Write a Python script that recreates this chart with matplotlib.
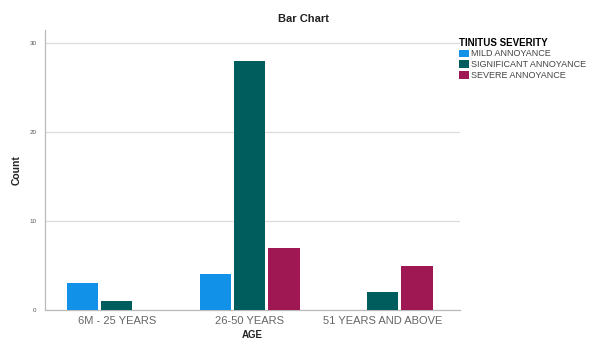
import numpy as np
import matplotlib.pyplot as plt

plt.rcParams['font.family'] = ['Liberation Sans', 'DejaVu Sans']

age_groups = ['6M - 25 YEARS', '26-50 YEARS', '51 YEARS AND ABOVE']
severity = ['MILD ANNOYANCE', 'SIGNIFICANT ANNOYANCE', 'SEVERE ANNOYANCE']
mild = [3, 4, 0]
significant = [1, 28, 2]
severe = [0, 7, 5]
colors = ['#1192e8', '#005d5d', '#9f1853']

fig = plt.figure(figsize=(5.89, 3.44), dpi=100)
ax = fig.add_axes([45/589, 1 - 310/344, 415/589, 280/344])

x = np.arange(len(age_groups))
w = 0.235
step = 0.257
for i, (vals, lab) in enumerate(zip([mild, significant, severe], severity)):
    ax.bar(x + (i - 1) * step, vals, width=w, color=colors[i], label=lab, zorder=3)

ax.set_xlim(-0.54, 2.58)
ax.set_ylim(0, 31.5)
ax.set_yticks([0, 10, 20, 30])
ax.set_xticks(x)
ax.set_xticklabels(age_groups, fontsize=8, color='#666666')
ax.tick_params(axis='y', labelsize=4.5, colors='#555555', length=0, pad=6)
ax.tick_params(axis='x', length=0, pad=4)
ax.grid(axis='y', color='#dddddd', linewidth=0.9, zorder=0)
for s in ['top', 'right']:
    ax.spines[s].set_visible(False)
for s in ['left', 'bottom']:
    ax.spines[s].set_color('#bbbbbb')
    ax.spines[s].set_linewidth(0.9)

ax.set_ylabel('Count', fontsize=7.5, fontweight='bold', labelpad=6, color='#222222')
ax.set_xlabel('AGE', fontsize=7, fontweight='bold', labelpad=3, color='#222222')
fig.text(303/589, 1 - 19/344, 'Bar Chart', ha='center', va='center',
         fontsize=8, fontweight='bold', color='#222222')

leg = fig.legend(loc='upper left', bbox_to_anchor=(455/589, 1 - 34/344),
                 fontsize=6.5, title='TINITUS SEVERITY', frameon=False,
                 handlelength=1.1, handleheight=0.9, handletextpad=0.3,
                 labelspacing=0.2, borderaxespad=0, alignment='left')
leg.get_title().set_fontweight('bold')
leg.get_title().set_fontsize(7)
for t in leg.get_texts():
    t.set_color('#444444')

fig.savefig('out.png', dpi=100)
